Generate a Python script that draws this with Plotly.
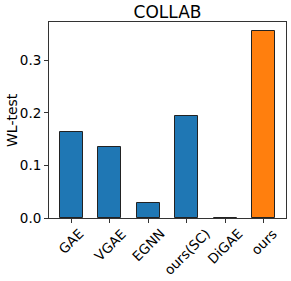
import plotly.graph_objects as go

categories = ["GAE", "VGAE", "EGNN", "ours(SC)", "DiGAE", "ours"]
values = [0.164, 0.135, 0.029, 0.194, 0.0, 0.355]
bar_colors = ["#1f77b4", "#1f77b4", "#1f77b4", "#1f77b4", "#1f77b4", "#ff7f0e"]
y_ticks = [0.0, 0.1, 0.2, 0.3]
y_tick_labels = ["0.0", "0.1", "0.2", "0.3"]
title_text = "COLLAB"
y_title = "WL-test"

FONT = "DejaVu Sans"
AX = "#333333"

fig = go.Figure()
fig.add_trace(go.Bar(
    x=categories, y=values, width=0.6,
    marker=dict(color=bar_colors, line=dict(color="#222222", width=1)),
))

annotations = []
for c in categories:
    annotations.append(dict(
        x=c, xref="x", y=0, yref="paper", text=c, showarrow=False,
        textangle=-45, xanchor="center", yanchor="top", yshift=-5,
        font=dict(family=FONT, size=13.5, color="black"),
    ))
annotations.append(dict(
    x=0, xref="paper", xshift=-37, y=0.5, yref="paper", text=y_title,
    showarrow=False, textangle=-90, xanchor="center", yanchor="middle",
    font=dict(family=FONT, size=14, color="black"),
))

fig.update_layout(
    width=291, height=281,
    margin=dict(l=49, r=5, t=22, b=63, pad=0, autoexpand=False),
    paper_bgcolor="white", plot_bgcolor="white",
    showlegend=False,
    font=dict(family=FONT, size=13, color="black"),
    title=dict(text=title_text, x=0.5, xref="paper", xanchor="center",
               y=1, yref="paper", yanchor="bottom", pad=dict(b=4),
               automargin=False,
               font=dict(family=FONT, size=17, color="black")),
    annotations=annotations,
    bargap=0,
)
fig.update_xaxes(
    type="category", range=[-0.58, 5.58], showticklabels=False,
    ticks="outside", ticklen=4, tickwidth=1, tickcolor=AX,
    showline=True, linecolor=AX, linewidth=1, mirror=True,
    showgrid=False, zeroline=False, automargin=False,
)
fig.update_yaxes(
    range=[0, 0.373], tickvals=y_ticks, ticktext=y_tick_labels,
    ticks="outside", ticklen=4, tickwidth=1, tickcolor=AX,
    tickfont=dict(family=FONT, size=13.5, color="black"),
    showline=True, linecolor=AX, linewidth=1, mirror=True,
    showgrid=False, zeroline=False, automargin=False,
)

fig.write_html(
    "out.html",
    config={"displayModeBar": False},
    post_script="document.body.style.margin='0';document.body.style.overflow='hidden';",
)
